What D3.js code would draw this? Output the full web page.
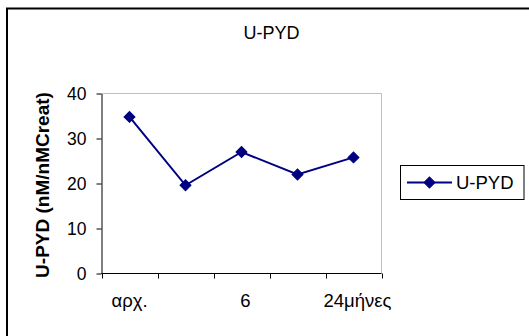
<!DOCTYPE html>
<html>
<head>
<meta charset="utf-8">
<script src="https://cdn.jsdelivr.net/npm/d3@7"></script>
<style>
  html, body { margin: 0; padding: 0; background: #fff; }
  svg { display: block; }
  text { font-family: Arial, "Liberation Sans", sans-serif; fill: #000; }
</style>
</head>
<body>
<svg id="chart" width="529" height="336"></svg>
<script>
// Urinary pyridinoline over the follow-up visits
const categories = ["αρχ.", "3", "6", "12", "24μήνες"];
const tickLabels = ["αρχ.", "", "6", "", "24μήνες"];
const values = [34.8, 19.6, 27, 22, 25.8];
const yTicks = [0, 10, 20, 30, 40];
const seriesName = "U-PYD";
const chartTitle = "U-PYD";
const yTitle = "U-PYD (nM/nMCreat)";

const svg = d3.select("#chart");
const navy = "#000080";
const FONT = "Arial, 'Liberation Sans', sans-serif";

// outer chart frame
svg.append("rect")
  .attr("x", 7).attr("y", 8.5)
  .attr("width", 560).attr("height", 360)
  .attr("fill", "#fff").attr("stroke", "#000").attr("stroke-width", 2);

const plot = { left: 101.5, right: 381.5, top: 93.5, bottom: 273.5 };

const x = d3.scaleBand()
  .domain(d3.range(categories.length))
  .range([plot.left, plot.right])
  .paddingInner(0).paddingOuter(0);

const y = d3.scaleLinear()
  .domain([0, 40])
  .range([plot.bottom, plot.top]);

// plot-area frame: light top and right edges
svg.append("path")
  .attr("d", `M${plot.left},${plot.top}H${plot.right}V${plot.bottom}`)
  .attr("fill", "none").attr("stroke", "#c0c0c0").attr("stroke-width", 1);

// y axis
const yAxis = svg.append("g")
  .attr("transform", `translate(${plot.left},0)`)
  .call(d3.axisLeft(y).tickValues(yTicks).tickSize(5).tickPadding(10).tickSizeOuter(0));
yAxis.select(".domain").attr("stroke", "#000");
yAxis.selectAll(".tick line").attr("stroke", "#000");
yAxis.selectAll(".tick text")
  .attr("font-size", 17.5).attr("font-family", FONT)
  .attr("fill", "#000");

// x axis with boundary ticks between categories
const xAxisG = svg.append("g")
  .attr("transform", `translate(0,${plot.bottom})`);
xAxisG.append("line")
  .attr("x1", plot.left).attr("x2", plot.right)
  .attr("stroke", "#000");
const bounds = d3.range(categories.length + 1).map(i =>
  i < categories.length ? x(i) : x(categories.length - 1) + x.bandwidth());
xAxisG.selectAll("line.tick")
  .data(bounds).join("line").attr("class", "tick")
  .attr("x1", d => Math.round(d) + 0.5).attr("x2", d => Math.round(d) + 0.5)
  .attr("y1", 0).attr("y2", 5)
  .attr("stroke", "#000");
xAxisG.selectAll("text")
  .data(d3.range(categories.length)).join("text")
  .attr("x", i => x(i) + x.bandwidth() / 2 + (i === 0 ? 0 : 4))
  .attr("y", 33)
  .attr("text-anchor", "middle")
  .attr("font-size", 18.5)
  .text(i => tickLabels[i]);

// series line and diamond markers
const line = d3.line()
  .x((d, i) => x(i) + x.bandwidth() / 2)
  .y(d => y(d));
svg.append("path")
  .datum(values)
  .attr("d", line)
  .attr("fill", "none").attr("stroke", navy).attr("stroke-width", 2);

const diamondPath = d3.symbol().type(d3.symbolSquare).size(60)();
svg.selectAll("path.marker")
  .data(values).join("path").attr("class", "marker")
  .attr("transform", (d, i) => `translate(${x(i) + x.bandwidth() / 2},${y(d)}) rotate(45)`)
  .attr("d", diamondPath)
  .attr("fill", navy).attr("stroke", navy).attr("stroke-width", 1);

// title
svg.append("text")
  .attr("x", 271.5).attr("y", 39)
  .attr("text-anchor", "middle")
  .attr("font-size", 18)
  .text(chartTitle);

// y axis title
svg.append("text")
  .attr("transform", `translate(49,${(plot.top + plot.bottom) / 2 + 1.5}) rotate(-90)`)
  .attr("text-anchor", "middle")
  .attr("font-size", 19)
  .attr("font-weight", "bold")
  .text(yTitle);

// legend
const lg = svg.append("g");
lg.append("rect")
  .attr("x", 400.5).attr("y", 165.5)
  .attr("width", 123.5).attr("height", 34)
  .attr("fill", "#fff").attr("stroke", "#000").attr("stroke-width", 1);
lg.append("line")
  .attr("x1", 407).attr("x2", 452).attr("y1", 182.5).attr("y2", 182.5)
  .attr("stroke", navy).attr("stroke-width", 2);
lg.append("path")
  .attr("transform", "translate(429.5,182.5) rotate(45)")
  .attr("d", diamondPath)
  .attr("fill", navy).attr("stroke", navy).attr("stroke-width", 1);
lg.append("text")
  .attr("x", 456).attr("y", 189)
  .attr("font-size", 18.5)
  .text(seriesName);
</script>
</body>
</html>
